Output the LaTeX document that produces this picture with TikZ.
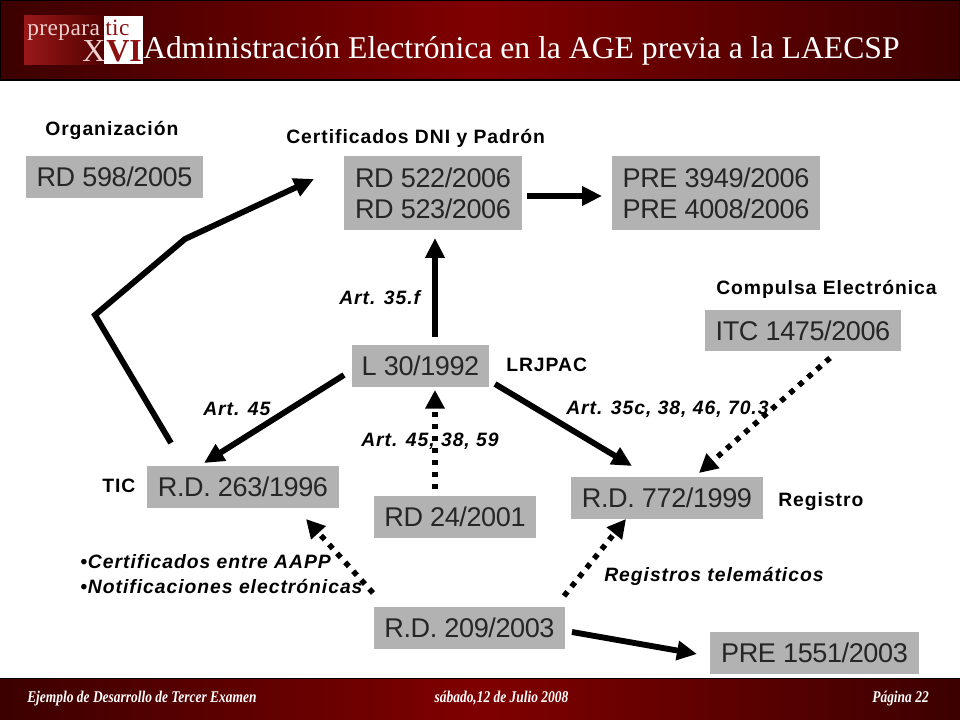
\documentclass[tikz,border=0pt]{standalone}
\usepackage{fontspec}
\setmainfont{Liberation Sans}
\newfontfamily\serifa{Liberation Serif}
\usetikzlibrary{arrows.meta}
\definecolor{boxgray}{HTML}{B2B2B2}
\definecolor{darkred}{HTML}{3C0000}
\definecolor{midred}{HTML}{800000}
\definecolor{logored}{HTML}{9A1818}
\definecolor{logodark}{HTML}{500000}
\definecolor{logotext}{HTML}{8C1010}
\definecolor{logopink}{HTML}{F0D0D0}
\tikzset{
 refbox/.style={fill=boxgray,inner sep=0pt,align=center,font=\fontsize{20.3}{23.5}\selectfont\addfontfeature{LetterSpace=-1.5},text=black!85},
 lab/.style={font=\fontsize{14.5}{15}\selectfont\bfseries\addfontfeature{LetterSpace=5},inner sep=0pt,anchor=west,yshift=-1pt},
 ilab/.style={lab,font=\fontsize{14.5}{19}\selectfont\bfseries\itshape\addfontfeature{LetterSpace=5}},
 conn/.style={line width=4.4pt,-{Triangle[length=15pt,width=14pt]}},
 dotconn/.style={line width=4.1pt,-{Triangle[length=14pt,width=14pt]},dash pattern=on 4.1pt off 4.9pt},
 foot/.style={font=\fontsize{12.3}{13}\serifa\bfseries\itshape\addfontfeature{FakeStretch=0.82},text=white,inner sep=0pt}
}
\newcommand{\refb}[6]{\node[refbox,minimum width=#4*0.75pt,minimum height=#5*0.75pt] (#1) at (#2,#3) {#6};}
\begin{document}
\begin{tikzpicture}[x=0.75pt,y=-0.75pt]
\useasboundingbox (0,0) rectangle (960,720);
\fill[white] (0,0) rectangle (960,720);
% header
\shade[left color=darkred,right color=midred] (0,0) rectangle (480,80);
\shade[left color=midred,right color=darkred] (480,0) rectangle (960,80);
\draw[black,line width=1pt] (0.5,0.5) rectangle (959.5,80);
% logo
\shade[left color=logored,right color=logodark] (24,16) rectangle (105,65);
\fill[white] (104,16) rectangle (143,64);
\node[font=\fontsize{17.5}{18}\serifa\addfontfeature{LetterSpace=2},text=logopink,inner sep=0pt,anchor=base west] (logoa) at (27,36) {prepara};
\node[font=\fontsize{17.5}{18}\serifa\addfontfeature{LetterSpace=2},text=logotext,inner sep=0pt,anchor=base west] (logob) at (105,36) {tic};
\node[font=\fontsize{24}{24}\serifa,text=logopink,inner sep=0pt,anchor=base west] (logoc) at (82,62) {X};
\node[font=\fontsize{24}{24}\serifa\bfseries,text=logotext,inner sep=0pt,anchor=base west] (logod) at (106,62) {VI};
\node[font=\fontsize{23.75}{26}\serifa,text=white,inner sep=0pt,anchor=base west] (title) at (143,59) {Administración Electrónica en la AGE previa a la LAECSP};
% footer
\shade[left color=darkred,right color=midred] (0,678) rectangle (480,720);
\shade[left color=midred,right color=darkred] (480,678) rectangle (960,720);
\draw[black,line width=1pt] (0,678.5) -- (960,678.5);
\node[foot,anchor=base west] (fa) at (27,702) {Ejemplo de Desarrollo de Tercer Examen};
\node[foot,anchor=base] (fb) at (501.5,702) {sábado,12 de Julio 2008};
\node[foot,anchor=base east] (fc) at (929,702) {Página 22};
% boxes
\refb{rdA}{114.5}{177}{177}{42}{RD 598/2005}
\refb{rdB}{433}{193}{178}{74}{RD 522/2006\\RD 523/2006}
\refb{pre}{716}{193}{208}{74}{PRE 3949/2006\\PRE 4008/2006}
\refb{itc}{803}{330.5}{196}{41}{ITC 1475/2006}
\refb{ley}{420.5}{366}{137}{42}{L 30/1992}
\refb{rdC}{243}{487}{192}{42}{R.D. 263/1996}
\refb{rdD}{455}{517}{162}{42}{RD 24/2001}
\refb{rdE}{667}{498}{192}{42}{R.D. 772/1999}
\refb{rdF}{469.5}{628}{191}{42}{R.D. 209/2003}
\refb{prf}{814.5}{653}{209}{42}{PRE 1551/2003}
% connector ends
\coordinate (a1) at (171,443);
\coordinate (a2) at (95,315);
\coordinate (a3) at (185,239);
\coordinate (a4) at (314,179);
\coordinate (b1) at (527,196);
\coordinate (b2) at (602,196);
\coordinate (c1) at (435,337);
\coordinate (c2) at (435,238);
\coordinate (d1) at (344,375);
\coordinate (d2) at (204,463);
\coordinate (e1) at (495,384);
\coordinate (e2) at (632,466);
\coordinate (f1) at (830,358);
\coordinate (f2) at (699,473);
\coordinate (g1) at (435,489);
\coordinate (g2) at (435,390);
\coordinate (h1) at (373,593);
\coordinate (h2) at (306,519);
\coordinate (i1) at (564,596);
\coordinate (i2) at (626,519);
\coordinate (j1) at (572,632);
\coordinate (j2) at (697,654);
% connectors
\draw[conn,line join=miter] (a1) -- (a2) -- (a3) -- (a4);
\draw[conn] (b1) -- (b2);
\draw[conn] (c1) -- (c2);
\draw[conn] (d1) -- (d2);
\draw[conn] (e1) -- (e2);
\draw[conn] (j1) -- (j2);
\draw[dotconn] (f1) -- (f2);
\draw[dotconn] (g1) -- (g2);
\draw[dotconn] (h1) -- (h2);
\draw[dotconn] (i1) -- (i2);
% labels
\node[lab] (l1) at (45,129) {Organización};
\node[lab] (l2) at (286,137) {Certificados DNI y Padrón};
\node[lab] (l3) at (716,288) {Compulsa Electrónica};
\node[lab] (l4) at (506,364) {LRJPAC};
\node[lab] (l5) at (102,485) {TIC};
\node[lab] (l6) at (778,500) {Registro};
\node[ilab] (l7) at (339,296) {Art. 35.f};
\node[ilab] (l8) at (203,408) {Art. 45};
\node[ilab] (l9) at (566,408) {Art. 35c, 38, 46, 70.3};
\node[ilab] (l10) at (361,440) {Art. 45, 38, 59};
\node[ilab] (l11) at (604,575) {Registros telemáticos};
\node[ilab] (l12) at (80,560) {•Certificados entre AAPP};
\node[ilab] (l13) at (80,585) {•Notificaciones electrónicas};
\end{tikzpicture}
\end{document}
